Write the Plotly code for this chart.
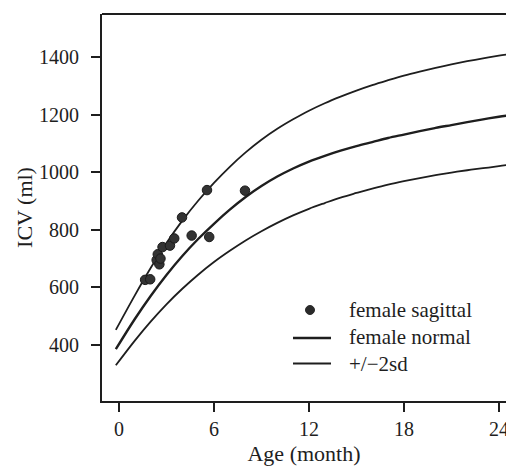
import plotly.graph_objects as go

# ---- data ----
curve_age = [-0.2, 1, 2, 3, 4, 5, 6, 7, 8, 9, 10, 11, 12, 13, 14, 15, 16, 17, 18, 19, 20, 21, 22, 23, 24, 24.5]
normal_mean = [385, 490, 570, 643, 709, 768, 821, 870, 914, 952, 985, 1013, 1037, 1057, 1075, 1091,
               1105, 1119, 1131, 1143, 1154, 1164, 1174, 1184, 1193, 1197]
normal_plus2sd = [452, 572, 667, 754, 832, 901, 963, 1019, 1069, 1113, 1151, 1184, 1214, 1240, 1263, 1284,
                  1303, 1320, 1336, 1350, 1363, 1375, 1386, 1396, 1405, 1409]
normal_minus2sd = [329, 415, 481, 541, 595, 644, 688, 727, 763, 795, 824, 850, 873, 893, 912, 928,
                   943, 957, 969, 980, 990, 999, 1007, 1014, 1021, 1025]

sagittal_age = [1.65, 1.97, 2.38, 2.45, 2.55, 2.62, 2.75, 3.22, 3.49, 3.98, 4.59, 5.56, 5.70, 7.96]
sagittal_icv = [626, 628, 695, 715, 680, 700, 740, 745, 770, 843, 780, 938, 775, 936]

x_ticks = [0, 6, 12, 18, 24]
y_ticks = [400, 600, 800, 1000, 1200, 1400]

legend_labels = ["female sagittal", "female normal", "+/\u22122sd"]

FONT = "Liberation Serif, Times New Roman, serif"
INK = "#1e1e1e"

fig = go.Figure()
fig.add_trace(go.Scatter(x=curve_age, y=normal_plus2sd, mode="lines", line=dict(color=INK, width=1.8, shape="spline"), showlegend=False))
fig.add_trace(go.Scatter(x=curve_age, y=normal_mean, mode="lines", line=dict(color=INK, width=2.4, shape="spline"), showlegend=False))
fig.add_trace(go.Scatter(x=curve_age, y=normal_minus2sd, mode="lines", line=dict(color=INK, width=1.8, shape="spline"), showlegend=False))
fig.add_trace(go.Scatter(x=sagittal_age, y=sagittal_icv, mode="markers",
                         marker=dict(size=9.5, color="#333333", line=dict(color="#1a1a1a", width=1)), showlegend=False))

# plot area in pixels: left 102, right 506, top 14, bottom 401
L, R, T, B = 102, 506, 14, 401
W, H = R - L, B - T
def px(p):
    return (p - L) / W
def py(p):
    return (B - p) / H

legend_rows = [310, 337, 363.5]
shapes = [
    dict(type="line", xref="paper", yref="paper", x0=0, x1=1, y0=1, y1=1, line=dict(color=INK, width=2)),
    # legend symbols
    dict(type="circle", xref="paper", yref="paper", x0=px(305.5), x1=px(314.5),
         y0=py(legend_rows[0] + 4.5), y1=py(legend_rows[0] - 4.5),
         fillcolor="#2a2a2a", line=dict(color="#2a2a2a", width=1)),
    dict(type="line", xref="paper", yref="paper", x0=px(293), x1=px(331), y0=py(legend_rows[1] + 1), y1=py(legend_rows[1] + 1),
         line=dict(color=INK, width=2.6)),
    dict(type="line", xref="paper", yref="paper", x0=px(293), x1=px(331), y0=py(legend_rows[2]), y1=py(legend_rows[2]),
         line=dict(color=INK, width=1.8)),
]
annotations = []
for lab, yy in zip(legend_labels, legend_rows):
    annotations.append(dict(text=lab, xref="paper", yref="paper", x=px(347), y=py(yy), xanchor="left", yanchor="middle",
                            showarrow=False, font=dict(family=FONT, size=21, color=INK)))

fig.update_layout(
    width=506, height=466,
    margin=dict(l=L, r=0, t=T, b=466 - B),
    paper_bgcolor="white", plot_bgcolor="white",
    template="none",
    showlegend=False,
    shapes=shapes, annotations=annotations,
    font=dict(family=FONT, color=INK),
)
fig.update_xaxes(range=[-1.074, 24.45], tickvals=x_ticks, ticktext=[str(v) for v in x_ticks],
                 showgrid=False, zeroline=False, showline=True, linecolor=INK, linewidth=2,
                 ticks="outside", ticklen=9, tickwidth=2, tickcolor=INK, ticklabeloverflow="allow",
                 tickfont=dict(family=FONT, size=20, color=INK), automargin=False,
                 title=dict(text="Age (month)", font=dict(family=FONT, size=22, color=INK)))
fig.update_yaxes(range=[205, 1550], tickvals=y_ticks, ticktext=[str(v) for v in y_ticks],
                 showgrid=False, zeroline=False, showline=True, linecolor=INK, linewidth=2,
                 ticks="outside", ticklen=9, tickwidth=2, tickcolor=INK, ticklabelstandoff=8,
                 tickfont=dict(family=FONT, size=20, color=INK), automargin=False,
                 title=dict(text="ICV (ml)", font=dict(family=FONT, size=22, color=INK)))

fig.write_html("out.html")
